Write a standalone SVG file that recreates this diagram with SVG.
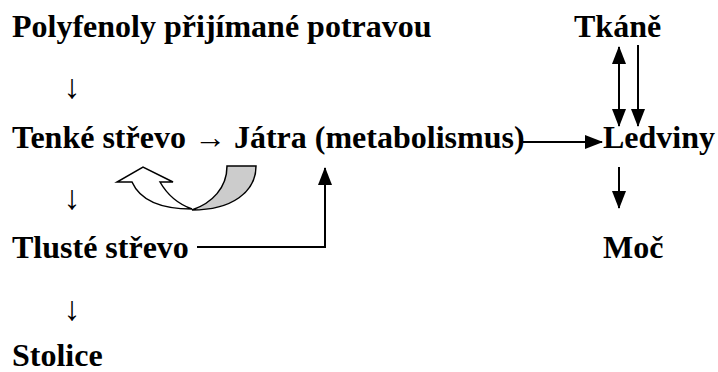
<svg xmlns="http://www.w3.org/2000/svg" width="718" height="372" viewBox="0 0 718 372">
<defs>
<marker id="ah" markerWidth="18" markerHeight="14" refX="17" refY="7" orient="auto" markerUnits="userSpaceOnUse">
<path d="M0,0 L18,7 L0,14 Z" fill="#000"/>
</marker>
<marker id="ahs" markerWidth="18" markerHeight="14" refX="17" refY="7" orient="auto-start-reverse" markerUnits="userSpaceOnUse">
<path d="M0,0 L18,7 L0,14 Z" fill="#000"/>
</marker>
</defs>
<rect width="718" height="372" fill="#fff"/>
<g id="polyfenoly"><text x="12" y="37" font-family="Liberation Serif" font-size="32" font-weight="bold">Polyfenoly přijímané potravou</text></g>
<g id="tkane"><text x="574" y="37" font-family="Liberation Serif" font-size="32" font-weight="bold">Tkáně</text></g>
<g id="tenke"><text x="12" y="148" font-family="Liberation Serif" font-size="32" font-weight="bold">Tenké střevo → Játra (metabolismus)</text></g>
<g id="ledviny"><text x="603" y="148" font-family="Liberation Serif" font-size="32" font-weight="bold">Ledviny</text></g>
<g id="tluste"><text x="12" y="258" font-family="Liberation Serif" font-size="32" font-weight="bold">Tlusté střevo</text></g>
<g id="moc"><text x="603" y="258" font-family="Liberation Serif" font-size="32" font-weight="bold">Moč</text></g>
<g id="stolice"><text x="12" y="366" font-family="Liberation Serif" font-size="32" font-weight="bold">Stolice</text></g>
<g id="connectors">
<text x="72" y="98" text-anchor="middle" font-family="Liberation Serif" font-size="34">↓</text>
<text x="72" y="209" text-anchor="middle" font-family="Liberation Serif" font-size="34">↓</text>
<text x="72" y="320" text-anchor="middle" font-family="Liberation Serif" font-size="34">↓</text>
<g stroke="#000" stroke-width="2" fill="none">
<line x1="523" y1="142" x2="602" y2="142" marker-end="url(#ah)"/>
<line x1="619" y1="47" x2="619" y2="126" marker-start="url(#ahs)" marker-end="url(#ah)"/>
<line x1="638" y1="45" x2="638" y2="126" marker-end="url(#ah)"/>
<line x1="619" y1="167" x2="619" y2="208" marker-end="url(#ah)"/>
<polyline points="197,247 325,247 325,168" marker-end="url(#ah)"/>
</g>
<path d="M227,166 L256,166 C256,192 232,210 192,210 C212,203 227,188 227,166 Z" fill="#ccc" stroke="#000" stroke-width="1.5"/>
<path d="M192,209 C160,209 140,200 132,182 L117,182 L143,167 L173,182 L160,182 C168,196 178,204 192,209 Z" fill="#fff" stroke="#000" stroke-width="1.5"/>
</g>
</svg>
